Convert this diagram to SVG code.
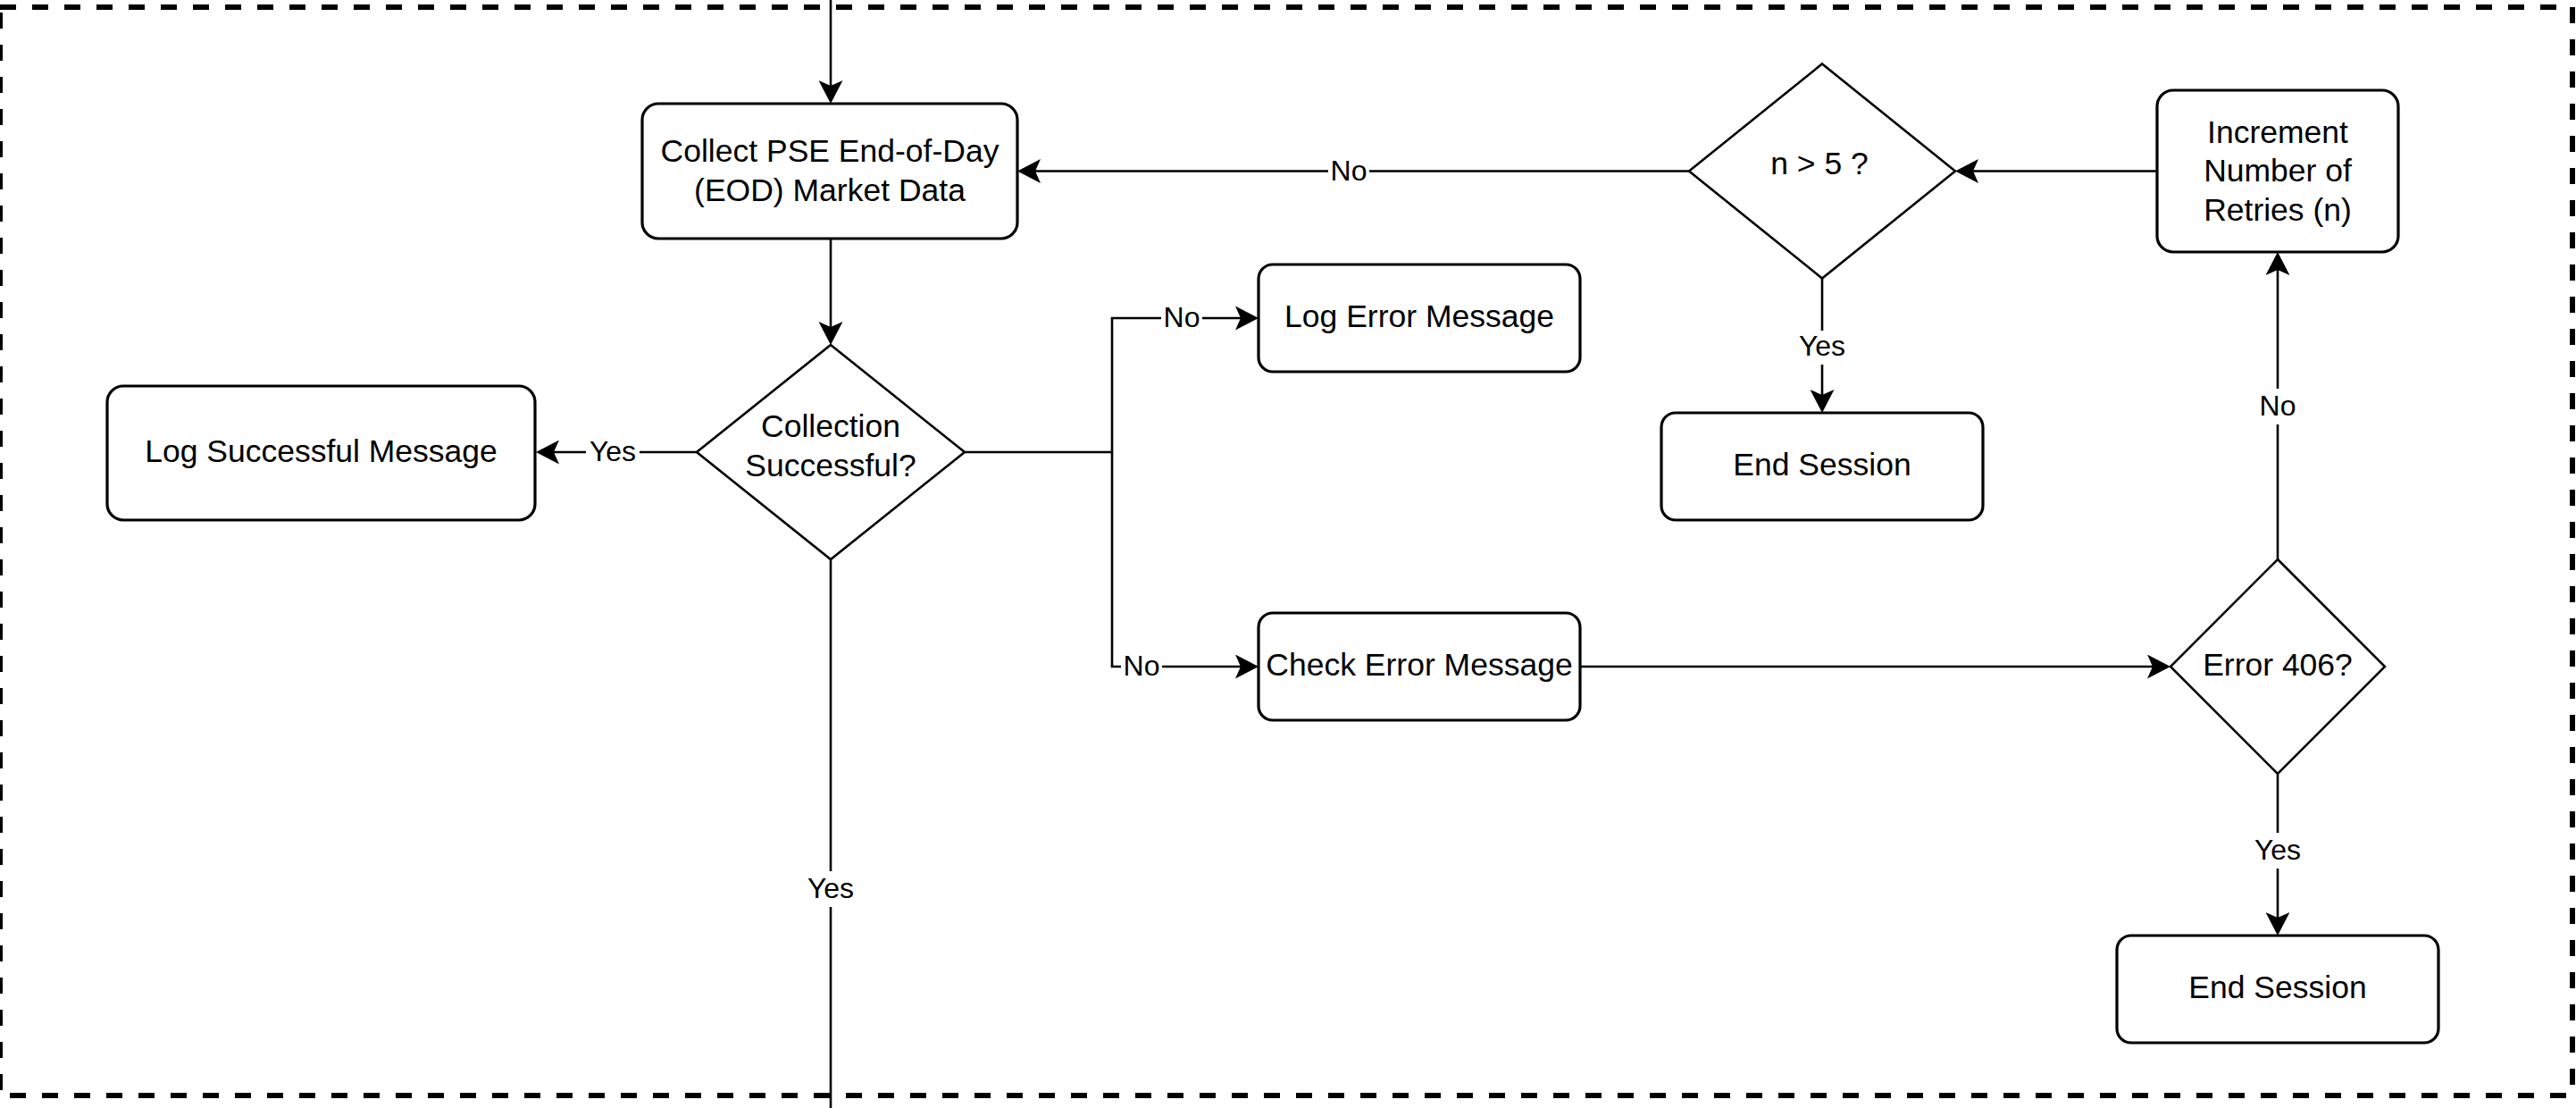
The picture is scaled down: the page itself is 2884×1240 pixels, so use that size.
<svg xmlns="http://www.w3.org/2000/svg" width="2884" height="1240" viewBox="0 0 2884 1240">
<defs>
<style>
.box{fill:#fff;stroke:#000;stroke-width:3.2}
.dia{fill:#fff;stroke:#000;stroke-width:2.6}
.t{font-family:"Liberation Sans",Arial,Helvetica,sans-serif;font-size:35.5px;fill:#000;text-anchor:middle}
.lb{font-family:"Liberation Sans",Arial,Helvetica,sans-serif;font-size:32px;fill:#000;text-anchor:middle}
.lbg{fill:#fff;stroke:none}
.c{fill:none;stroke:#000;stroke-width:2.6}
.ca{fill:none;stroke:#000;stroke-width:2.6;marker-end:url(#arr)}
.border{stroke:#000;stroke-width:6;stroke-dasharray:18 18;fill:none}
</style>
<marker id="arr" viewBox="0 0 26 27" refX="6" refY="13.5" markerWidth="26" markerHeight="27" markerUnits="userSpaceOnUse" orient="auto">
<path d="M0,0 L26,13.5 L0,27 L6,13.5 Z" fill="#000"/>
</marker>
</defs>
<rect width="2884" height="1240" fill="#fff"/>
<g id="frame">
<line class="border" x1="0" y1="8" x2="2880" y2="8"/>
<line class="border" x1="2880" y1="8" x2="2880" y2="1226"/>
<line class="border" x1="11" y1="1226" x2="2880" y2="1226"/>
<line class="border" x1="0" y1="14" x2="0" y2="1226"/>
</g>
<g id="connectors">
<path class="ca" d="M930,0 V96"/>
<path class="ca" d="M930,267 V366"/>
<path class="ca" d="M780,506 H620"/>
<path class="ca" d="M1080,506 H1245 V356 H1389"/>
<path class="ca" d="M1245,506 V746 H1389"/>
<path class="ca" d="M1769,746 H2410"/>
<path class="ca" d="M2550,866 V1027"/>
<path class="ca" d="M2550,626 V302"/>
<path class="ca" d="M2415,191.5 H2209"/>
<path class="ca" d="M1891,191.5 H1159"/>
<path class="ca" d="M2040,311.5 V442"/>
<path class="c" d="M930,626 V1240"/>
<g id="labels">
<rect class="lbg" x="656" y="488" width="60" height="36"/><text class="lb" x="686" y="516">Yes</text>
<rect class="lbg" x="1300" y="338" width="46" height="36"/><text class="lb" x="1323" y="366">No</text>
<rect class="lbg" x="1255" y="728" width="46" height="36"/><text class="lb" x="1278" y="756">No</text>
<rect class="lbg" x="1487" y="173.5" width="46" height="36"/><text class="lb" x="1510" y="201.5">No</text>
<rect class="lbg" x="2010" y="370" width="60" height="38"/><text class="lb" x="2040" y="398">Yes</text>
<rect class="lbg" x="2527" y="435" width="46" height="40"/><text class="lb" x="2550" y="465">No</text>
<rect class="lbg" x="2520" y="932" width="60" height="40"/><text class="lb" x="2550" y="962">Yes</text>
<rect class="lbg" x="900" y="975" width="60" height="40"/><text class="lb" x="930" y="1005">Yes</text>
</g>
</g>
<g id="collect">
<rect class="box" x="719" y="116" width="420" height="151" rx="18"/>
<text class="t" x="929" y="180.5">Collect PSE End-of-Day</text>
<text class="t" x="929" y="224.5">(EOD) Market Data</text>
</g>
<g id="collection-successful">
<polygon class="dia" points="930,386 1080,506 930,626 780,506"/>
<text class="t" x="930" y="489">Collection</text>
<text class="t" x="930" y="533">Successful?</text>
</g>
<g id="log-successful">
<rect class="box" x="120" y="432" width="479" height="150" rx="18"/>
<text class="t" x="359.5" y="517">Log Successful Message</text>
</g>
<g id="log-error">
<rect class="box" x="1409" y="296" width="360" height="120" rx="16"/>
<text class="t" x="1589" y="366">Log Error Message</text>
</g>
<g id="check-error">
<rect class="box" x="1409" y="686" width="360" height="120" rx="16"/>
<text class="t" x="1589" y="756">Check Error Message</text>
</g>
<g id="n-gt-5">
<polygon class="dia" points="2040,71.5 2189,191.5 2040,311.5 1891,191.5"/>
<text class="t" x="2037" y="195">n &gt; 5 ?</text>
</g>
<g id="end-session-1">
<rect class="box" x="1860" y="462" width="360" height="120" rx="16"/>
<text class="t" x="2040" y="532">End Session</text>
</g>
<g id="increment">
<rect class="box" x="2415" y="101" width="270" height="181" rx="18"/>
<text class="t" x="2550" y="159.5">Increment</text>
<text class="t" x="2550" y="203">Number of</text>
<text class="t" x="2550" y="246.5">Retries (n)</text>
</g>
<g id="error-406">
<polygon class="dia" points="2550,626 2670,746 2550,866 2430,746"/>
<text class="t" x="2550" y="756">Error 406?</text>
</g>
<g id="end-session-2">
<rect class="box" x="2370" y="1047" width="360" height="120" rx="16"/>
<text class="t" x="2550" y="1117">End Session</text>
</g>
</svg>
